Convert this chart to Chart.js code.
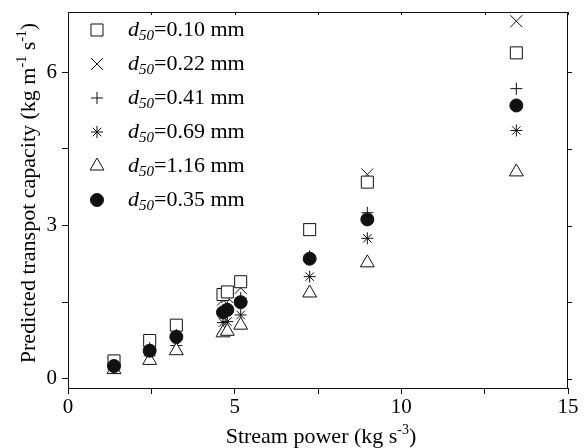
<!DOCTYPE html>
<html>
<head>
<meta charset="utf-8">
<script src="https://cdn.jsdelivr.net/npm/chart.js@4.4.1/dist/chart.umd.min.js"></script>
<style>
    html, body { margin: 0; padding: 0; background: #fff; }
    #grafico { display: block; }
</style>
</head>
<body>
<canvas id="grafico" width="584" height="448"></canvas>
<script>
// Dados - potencia do escoamento (kg s-3)
const streamPower = [1.38, 2.45, 3.25, 4.65, 4.78, 5.18, 7.25, 8.98, 13.45];

// capacidade de transporte prevista (kg m-1 s-1) para cada d50
const d010 = [0.35, 0.75, 1.05, 1.65, 1.70, 1.90, 2.92, 3.85, 6.38];
const d022 = [0.30, 0.66, 0.96, 1.55, 1.60, 1.78, 2.92, 4.00, 7.00];
const d041 = [0.27, 0.60, 0.86, 1.35, 1.40, 1.58, 2.40, 3.25, 5.68];
const d069 = [0.22, 0.45, 0.65, 1.10, 1.12, 1.25, 2.00, 2.75, 4.86];
const d116 = [0.18, 0.36, 0.55, 0.90, 0.93, 1.05, 1.68, 2.27, 4.05];
const d035 = [0.25, 0.55, 0.82, 1.30, 1.35, 1.50, 2.35, 3.12, 5.35];

const xTicks = [0, 2.5, 5, 7.5, 10, 12.5, 15];
const yTicks = [0, 1.5, 3, 4.5, 6];

// legenda na ordem da figura
const legendaValores = ['0.10', '0.22', '0.41', '0.69', '1.16', '0.35'];
const legendaEstilos = ['rect', 'crossRot', 'cross', 'star', 'triangle', 'circle'];
const legendaRaios = [8.5, 8.5, 6, 6, 8, 6.5];

const fonte = '"Liberation Serif", "Times New Roman", serif';

function pontos(valores) {
    let lista = [];
    for (let i = 0; i < streamPower.length; i++) {
        lista.push({ x: streamPower[i], y: valores[i] });
    }
    return lista;
}

function serie(valores, estilo, raio, fundo) {
    return {
        data: pontos(valores),
        pointStyle: estilo,
        pointRadius: raio,
        pointHoverRadius: raio,
        borderColor: '#111',
        backgroundColor: fundo,
        borderWidth: 1,
        showLine: false
    };
}

// texto com sub/sobrescrito
function desenharPartes(ctx, partes, x, y) {
    let pos = x;
    partes.forEach(p => {
        ctx.font = p.font;
        ctx.fillText(p.t, pos, y + (p.dy || 0));
        pos += ctx.measureText(p.t).width;
    });
}

function larguraPartes(ctx, partes) {
    let w = 0;
    partes.forEach(p => {
        ctx.font = p.font;
        w += ctx.measureText(p.t).width;
    });
    return w;
}

const molduraELegenda = {
    id: 'molduraELegenda',
    afterDraw(chart) {
        const ctx = chart.ctx;
        const area = chart.chartArea;
        const sx = chart.scales.x;
        const sy = chart.scales.y;
        ctx.save();
        ctx.strokeStyle = '#111';
        ctx.lineWidth = 1;
        ctx.beginPath();
        ctx.moveTo(area.left, area.top + 0.5);
        ctx.lineTo(area.right, area.top + 0.5);
        ctx.moveTo(area.right - 0.5, area.top);
        ctx.lineTo(area.right - 0.5, area.bottom);
        xTicks.forEach(v => {
            const px = Math.round(sx.getPixelForValue(v)) + 0.5;
            ctx.moveTo(px, area.top);
            ctx.lineTo(px, area.top + 3);
        });
        yTicks.forEach(v => {
            const py = Math.round(sy.getPixelForValue(v)) + 0.5;
            ctx.moveTo(area.right, py);
            ctx.lineTo(area.right + 4, py);
        });
        ctx.stroke();

        // legenda
        ctx.fillStyle = '#000';
        ctx.textBaseline = 'middle';
        ctx.textAlign = 'left';
        for (let i = 0; i < legendaValores.length; i++) {
            const ly = area.top + 18 + i * 34;
            const lx = area.left + 29;
            ctx.fillStyle = legendaEstilos[i] === 'circle' ? '#111' : '#fff';
            ctx.strokeStyle = '#111';
            ctx.lineWidth = 1;
            Chart.helpers.drawPoint(ctx, {
                pointStyle: legendaEstilos[i],
                radius: legendaRaios[i],
                rotation: 0,
                borderWidth: 1
            }, lx, ly);
            ctx.fillStyle = '#000';
            desenharPartes(ctx, [
                { t: 'd', font: 'italic 22px ' + fonte },
                { t: '50', font: 'italic 15px ' + fonte, dy: 6 },
                { t: '=' + legendaValores[i] + ' mm', font: '22px ' + fonte }
            ], area.left + 60, ly);
        }

        // titulos dos eixos
        const tituloX = [
            { t: 'Stream power (kg s', font: '22px ' + fonte },
            { t: '-3', font: '14px ' + fonte, dy: -7 },
            { t: ')', font: '22px ' + fonte }
        ];
        const wx = larguraPartes(ctx, tituloX);
        desenharPartes(ctx, tituloX, (area.left + area.right) / 2 + 3 - wx / 2, 437);

        const tituloY = [
            { t: 'Predicted transpot capacity (kg m', font: '22px ' + fonte },
            { t: '-1', font: '14px ' + fonte, dy: -7 },
            { t: ' s', font: '22px ' + fonte },
            { t: '-1', font: '14px ' + fonte, dy: -7 },
            { t: ')', font: '22px ' + fonte }
        ];
        const wy = larguraPartes(ctx, tituloY);
        ctx.translate(29, 193);
        ctx.rotate(-Math.PI / 2);
        desenharPartes(ctx, tituloY, -wy / 2, 0);
        ctx.restore();
    }
};

const config = {
    type: 'scatter',
    data: {
        // primeiro conjunto fica por cima
        datasets: [
            serie(d035, 'circle', 6.5, '#111'),
            serie(d116, 'triangle', 8, '#fff'),
            serie(d069, 'star', 6, 'rgba(0,0,0,0)'),
            serie(d041, 'cross', 6, 'rgba(0,0,0,0)'),
            serie(d010, 'rect', 8.5, '#fff'),
            serie(d022, 'crossRot', 8.5, 'rgba(0,0,0,0)')
        ]
    },
    options: {
        responsive: false,
        animation: false,
        devicePixelRatio: 1,
        layout: { padding: { left: 0, top: 12, right: 16, bottom: 0 } },
        plugins: {
            legend: { display: false },
            tooltip: { enabled: false }
        },
        scales: {
            x: {
                type: 'linear',
                min: 0,
                max: 15,
                afterFit: s => {
                    s.height = 60;
                    s.paddingLeft = 0;
                    s.paddingRight = 0;
                },
                afterBuildTicks: s => { s.ticks = xTicks.map(v => ({ value: v })); },
                grid: { drawOnChartArea: false, drawTicks: true, tickLength: 6, color: '#111' },
                border: { display: true, color: '#111', width: 1 },
                ticks: {
                    color: '#000',
                    padding: 1,
                    maxRotation: 0,
                    font: { family: fonte, size: 21 },
                    callback: v => (v % 5 === 0 ? v : '')
                }
            },
            y: {
                type: 'linear',
                min: -0.18,
                max: 7.18,
                afterFit: s => {
                    s.width = 68;
                    s.paddingTop = 0;
                    s.paddingBottom = 0;
                },
                afterBuildTicks: s => { s.ticks = yTicks.map(v => ({ value: v })); },
                grid: { drawOnChartArea: false, drawTicks: true, tickLength: 6, color: '#111' },
                border: { display: true, color: '#111', width: 1 },
                ticks: {
                    color: '#000',
                    padding: 5,
                    font: { family: fonte, size: 21 },
                    callback: v => (v % 3 === 0 ? v : '')
                }
            }
        }
    },
    plugins: [molduraELegenda]
};

let grafico = new Chart(document.getElementById('grafico'), config);
</script>
</body>
</html>
